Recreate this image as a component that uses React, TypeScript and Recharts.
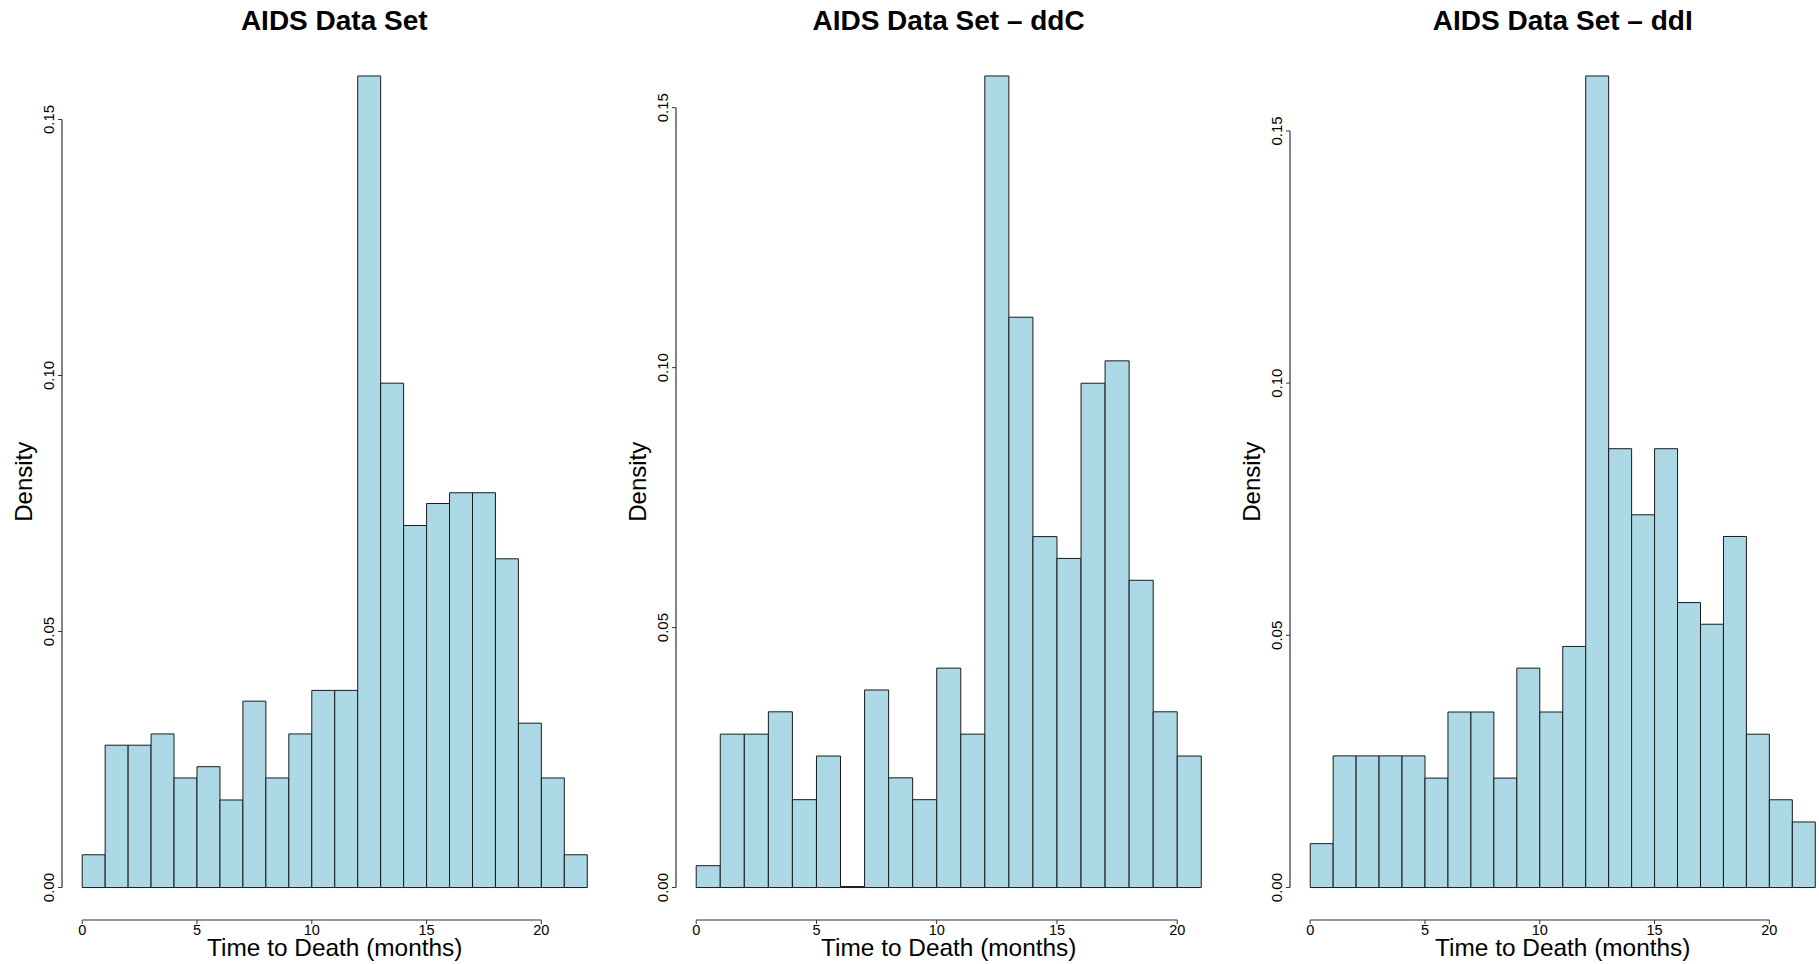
import { ComposedChart, Bar, XAxis, YAxis, ReferenceLine, Label } from 'recharts'

// bin midpoints (1-month bins), shared by the three histograms
const BIN_MIDS = [0.5, 1.5, 2.5, 3.5, 4.5, 5.5, 6.5, 7.5, 8.5, 9.5, 10.5, 11.5, 12.5, 13.5, 14.5, 15.5, 16.5, 17.5, 18.5, 19.5, 20.5, 21.5]
const BIN_MIDS_DDC = [0.5, 1.5, 2.5, 3.5, 4.5, 5.5, 6.5, 7.5, 8.5, 9.5, 10.5, 11.5, 12.5, 13.5, 14.5, 15.5, 16.5, 17.5, 18.5, 19.5, 20.5]

const densityAll = [0.0064, 0.0278, 0.0278, 0.0300, 0.0214, 0.0236, 0.0171, 0.0364, 0.0214, 0.0300, 0.0385, 0.0385, 0.1585, 0.0985, 0.0707, 0.0750, 0.0771, 0.0771, 0.0642, 0.0321, 0.0214, 0.0064]
const densityDdc = [0.0042, 0.0295, 0.0295, 0.0338, 0.0169, 0.0253, 0, 0.0380, 0.0211, 0.0169, 0.0422, 0.0295, 0.1561, 0.1097, 0.0675, 0.0633, 0.0970, 0.1013, 0.0591, 0.0338, 0.0253]
const densityDdi = [0.0087, 0.0261, 0.0261, 0.0261, 0.0261, 0.0217, 0.0348, 0.0348, 0.0217, 0.0435, 0.0348, 0.0478, 0.1609, 0.0870, 0.0739, 0.0870, 0.0565, 0.0522, 0.0696, 0.0304, 0.0174, 0.0130]

const X_TICKS = [0, 5, 10, 15, 20]
const Y_TICKS = [0, 0.05, 0.1, 0.15]
const TITLES = ['AIDS Data Set', 'AIDS Data Set \u2013 ddC', 'AIDS Data Set \u2013 ddI']
const X_TITLE = 'Time to Death (months)'
const Y_TITLE = 'Density'

const FONT = '"Liberation Sans", Arial, Helvetica, sans-serif'
const AXIS = '#333'
const W = 1819
const H = 964
const PLOT_TOP = 43.5
const PLOT_BOTTOM = 920
const PLOT_W = 545.5
const Y_AXIS_W = 60
const RIGHT = 8

const yTick = (p: any) => (
  <text x={p.x} y={p.y} transform={`rotate(-90 ${p.x} ${p.y})`} textAnchor="middle"
    fontSize={15} fill="#000" fontFamily={FONT}>
    {Number(p.payload.value).toFixed(2)}
  </text>
)

const yTitle = (p: any) => {
  const vb = p.viewBox ?? { x: 0, y: PLOT_TOP, width: Y_AXIS_W, height: PLOT_BOTTOM - PLOT_TOP }
  const x = vb.x + vb.width - 30
  const y = vb.y + vb.height / 2
  return (
    <text x={x} y={y} transform={`rotate(-90 ${x} ${y})`} textAnchor="middle" fontSize={24} fill="#000" fontFamily={FONT}>
      {Y_TITLE}
    </text>
  )
}

const xTitle = (p: any) => {
  const vb = p.viewBox ?? { x: Y_AXIS_W, y: PLOT_BOTTOM, width: PLOT_W, height: H - PLOT_BOTTOM }
  return (
    <text x={vb.x + vb.width / 2} y={vb.y + 36} textAnchor="middle" fontSize={24.4} fill="#000" fontFamily={FONT}>
      {X_TITLE}
    </text>
  )
}

function Panel({ title, mids, values, plotLeft }: { title: string; mids: number[]; values: number[]; plotLeft: number }) {
  const data = mids.map((m, i) => ({ mid: m, density: values[i] }))
  const xMax = mids[mids.length - 1] + 0.5
  const xDomain = [-0.04 * xMax, 1.04 * xMax]
  const yMax = Math.max(...values)
  const yDomain = [-0.04 * yMax, 1.04 * yMax]
  const unit = PLOT_W / (xDomain[1] - xDomain[0])
  const left = plotLeft - Y_AXIS_W

  return (
    <>
      <div style={{
        position: 'absolute', left: plotLeft + PLOT_W / 2, top: 7.3, transform: 'translateX(-50%)',
        whiteSpace: 'nowrap', fontFamily: FONT, fontWeight: 'bold', fontSize: 28, lineHeight: 1, color: '#000',
      }}>{title}</div>
      <div style={{ position: 'absolute', left, top: 0 }}>
        <ComposedChart width={Y_AXIS_W + PLOT_W + RIGHT} height={H} data={data} barCategoryGap={0} barGap={0}
          margin={{ top: PLOT_TOP, right: RIGHT, bottom: 0, left: 0 }}>
          <XAxis type="number" dataKey="mid" domain={xDomain} ticks={X_TICKS} interval={0} height={H - PLOT_BOTTOM}
            axisLine={false} tickSize={4} tickMargin={1} tickLine={{ stroke: AXIS }}
            tick={{ fill: '#000', fontSize: 14.5, fontFamily: FONT }} allowDataOverflow>
            <Label content={xTitle} />
          </XAxis>
          <YAxis type="number" domain={yDomain} ticks={Y_TICKS} interval={0} width={Y_AXIS_W}
            axisLine={false} tickSize={4} tickMargin={3.5} tickLine={{ stroke: AXIS }} tick={yTick} allowDataOverflow>
            <Label content={yTitle} />
          </YAxis>
          <Bar dataKey="density" barSize={unit - 0.01} minPointSize={1} fill="#ADD8E6" stroke="#1a1a1a" strokeWidth={1} isAnimationActive={false} />
          <ReferenceLine segment={[{ x: 0, y: yDomain[0] }, { x: 20, y: yDomain[0] }]} stroke={AXIS} strokeWidth={1.2} ifOverflow="visible" />
          <ReferenceLine segment={[{ x: xDomain[0], y: 0 }, { x: xDomain[0], y: 0.15 }]} stroke={AXIS} strokeWidth={1.2} ifOverflow="visible" />
        </ComposedChart>
      </div>
    </>
  )
}

export default function App() {
  return (
    <div style={{ position: 'absolute', left: 0, top: 0, width: W, height: H, overflow: 'hidden', background: '#fff' }}>
      <Panel title={TITLES[0]} mids={BIN_MIDS} values={densityAll} plotLeft={61.5} />
      <Panel title={TITLES[1]} mids={BIN_MIDS_DDC} values={densityDdc} plotLeft={675.8} />
      <Panel title={TITLES[2]} mids={BIN_MIDS} values={densityDdi} plotLeft={1290} />
    </div>
  )
}
